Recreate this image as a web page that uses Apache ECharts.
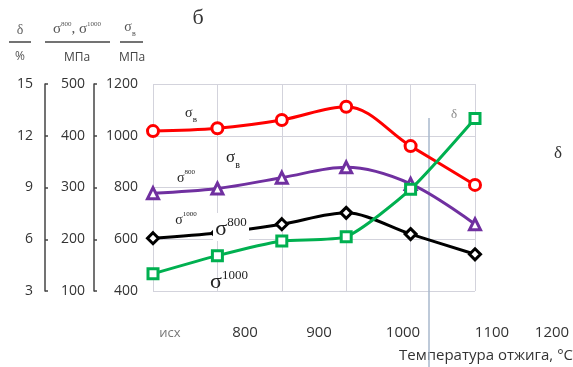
<!DOCTYPE html>
<html><head><meta charset="utf-8">
<script src="https://cdn.jsdelivr.net/npm/echarts@6/dist/echarts.min.js"></script>
<style>html,body{margin:0;padding:0;background:#fff}#c{width:573px;height:367px}</style>
</head><body><div id="c"></div>
<script>
const categories = ['исх', '800', '900', '1000', '1100', '1200'];
const sigmaB = [1018, 1029, 1061, 1112, 960, 810];
const sigma800 = [289, 298, 319, 339, 307, 229];
const sigma1000 = [202, 212, 229, 251, 210, 171];
const delta = [4.0, 5.05, 5.9, 6.15, 8.9, 13.0];
const xTickLabels = ['исх', '800', '900', '1000', '1100', '1200'];
const xTickX = [170, 245, 319, 403, 492, 552];

const chart = echarts.init(document.getElementById('c'), null, {renderer: 'canvas'});
const labelFont = "'Open Sans', 'Noto Sans', sans-serif";
const serif = "'Liberation Serif', 'DejaVu Serif', serif";
const gridColor = '#d3d3dc';
const axisCommon = (min, max, interval, offset, margin, showLine) => ({
  type: 'value', position: 'left', min, max, interval, offset,
  axisLine: {show: showLine, lineStyle: {color: '#444', width: 1.5}},
  axisTick: {show: showLine, inside: true, length: 3, lineStyle: {color: '#444', width: 1.5}},
  axisLabel: {margin, fontSize: 14, color: '#333', fontFamily: labelFont, formatter: v => String(v)},
  splitLine: {show: !showLine, lineStyle: {color: gridColor, width: 1}}
});

function mk(color, symbol, size, yIdx, data, smooth) {
  return {
    type: 'line', yAxisIndex: yIdx, data, smooth,
    symbol, symbolSize: size, showSymbol: true,
    lineStyle: {color, width: 3},
    itemStyle: {color: '#fff', borderColor: color, borderWidth: 3},
    z: 3
  };
}

const graphics = [];
xTickLabels.forEach((t, i) => {
  graphics.push({type: 'text', x: xTickX[i], y: 333, style: {
    text: t, fill: i === 0 ? '#777' : '#333', font: (i === 0 ? '13px ' : '15px ') + labelFont,
    textAlign: 'center', textVerticalAlign: 'middle'}});
});
graphics.push({type: 'text', x: 573, y: 356, style: {text: 'Температура отжига, °C', fill: '#333',
  font: '15px ' + labelFont, textAlign: 'right', textVerticalAlign: 'middle'}});
graphics.push({type: 'line', shape: {x1: 429, y1: 118, x2: 429, y2: 367}, style: {stroke: '#a9b9cc', lineWidth: 1.5}, z: 1});

function sigmaSup(x, y, sup, big, small, color, bg) {
  return {type: 'text', x, y, z: 10, style: {
    text: '{s|σ}{p|' + sup + '}', textAlign: 'center', textVerticalAlign: 'middle',
    backgroundColor: bg || 'transparent',
    rich: {s: {fontSize: big, fontFamily: serif, fill: color, verticalAlign: 'bottom', lineHeight: big + 2},
           p: {fontSize: small, fontFamily: serif, fill: color, verticalAlign: 'top', lineHeight: big + 2}}}};
}
function sigmaSub(x, y, sub, big, small, color) {
  return {type: 'text', x, y, z: 10, style: {
    text: '{s|σ}{p|' + sub + '}', textAlign: 'center', textVerticalAlign: 'middle',
    rich: {s: {fontSize: big, fontFamily: serif, fill: color, verticalAlign: 'top', lineHeight: big + 4},
           p: {fontSize: small, fontFamily: serif, fill: color, verticalAlign: 'bottom', lineHeight: big + 4}}}};
}
graphics.push(sigmaSub(191, 115, 'в', 14, 9, '#222'));
graphics.push(sigmaSub(233, 160, 'в', 17, 10, '#222'));
graphics.push(sigmaSup(186, 177, '800', 14, 7, '#222'));
graphics.push(sigmaSup(186, 219, '1000', 14, 7, '#222'));
graphics.push({type: 'rect', shape: {x: 213, y: 213, width: 36, height: 28}, style: {fill: '#fff'}, z: 8});
graphics.push(sigmaSup(231, 228, '800', 22, 13, '#222'));
graphics.push(sigmaSup(229, 281, '1000', 22, 13, '#222'));
graphics.push({type: 'text', x: 454, y: 115, z: 10, style: {text: 'δ', fill: '#888', font: '13px ' + serif, textAlign: 'center', textVerticalAlign: 'middle'}});
graphics.push({type: 'text', x: 558, y: 154, z: 10, style: {text: 'δ', fill: '#333', font: '17px ' + serif, textAlign: 'center', textVerticalAlign: 'middle'}});
graphics.push({type: 'text', x: 198, y: 18, z: 10, style: {text: 'б', fill: '#333', font: '22px ' + serif, textAlign: 'center', textVerticalAlign: 'middle'}});

// header units
graphics.push({type: 'text', x: 20, y: 30, style: {text: 'δ', fill: '#666', font: '14px ' + serif, textAlign: 'center', textVerticalAlign: 'middle'}});
graphics.push({type: 'line', shape: {x1: 9, y1: 42, x2: 31, y2: 42}, style: {stroke: '#444', lineWidth: 1.5}});
graphics.push({type: 'text', x: 20, y: 57, style: {text: '%', fill: '#555', font: '12px ' + labelFont, textAlign: 'center', textVerticalAlign: 'middle'}});
graphics.push({type: 'text', x: 77, y: 29, z: 10, style: {
  text: '{s|σ}{p|800}{s|, σ}{p|1000}', textAlign: 'center', textVerticalAlign: 'middle',
  rich: {s: {fontSize: 15, fontFamily: serif, fill: '#555', verticalAlign: 'bottom', lineHeight: 16},
         p: {fontSize: 7, fontFamily: serif, fill: '#555', verticalAlign: 'top', lineHeight: 16}}}});
graphics.push({type: 'line', shape: {x1: 45, y1: 42, x2: 110, y2: 42}, style: {stroke: '#444', lineWidth: 1.5}});
graphics.push({type: 'text', x: 77, y: 58, style: {text: 'МПа', fill: '#444', font: '12px ' + labelFont, textAlign: 'center', textVerticalAlign: 'middle'}});
graphics.push(sigmaSub(130, 29, 'в', 14, 8, '#555'));
graphics.push({type: 'line', shape: {x1: 120, y1: 42, x2: 143, y2: 42}, style: {stroke: '#444', lineWidth: 1.5}});
graphics.push({type: 'text', x: 132, y: 58, style: {text: 'МПа', fill: '#444', font: '12px ' + labelFont, textAlign: 'center', textVerticalAlign: 'middle'}});

chart.setOption({
  animation: false,
  backgroundColor: '#fff',
  grid: {left: 153, right: 98, top: 84, bottom: 76, containLabel: false},
  xAxis: {type: 'category', data: categories, boundaryGap: false,
    axisLabel: {show: false}, axisTick: {show: false}, axisLine: {show: false},
    splitLine: {show: true, lineStyle: {color: gridColor, width: 1}}},
  yAxis: [
    axisCommon(400, 1200, 200, 0, 15, false),
    axisCommon(100, 500, 100, 59, 9, true),
    axisCommon(3, 15, 3, 108, 12, true)
  ],
  series: [
    mk('#ff0000', 'circle', 11, 0, sigmaB, 0.35),
    mk('#7030a0', 'triangle', 11, 1, sigma800, 0.35),
    mk('#000000', 'diamond', 11, 1, sigma1000, 0.3),
    mk('#00b050', 'rect', 10, 2, delta, 0.2)
  ],
  graphic: graphics
});
</script></body></html>
